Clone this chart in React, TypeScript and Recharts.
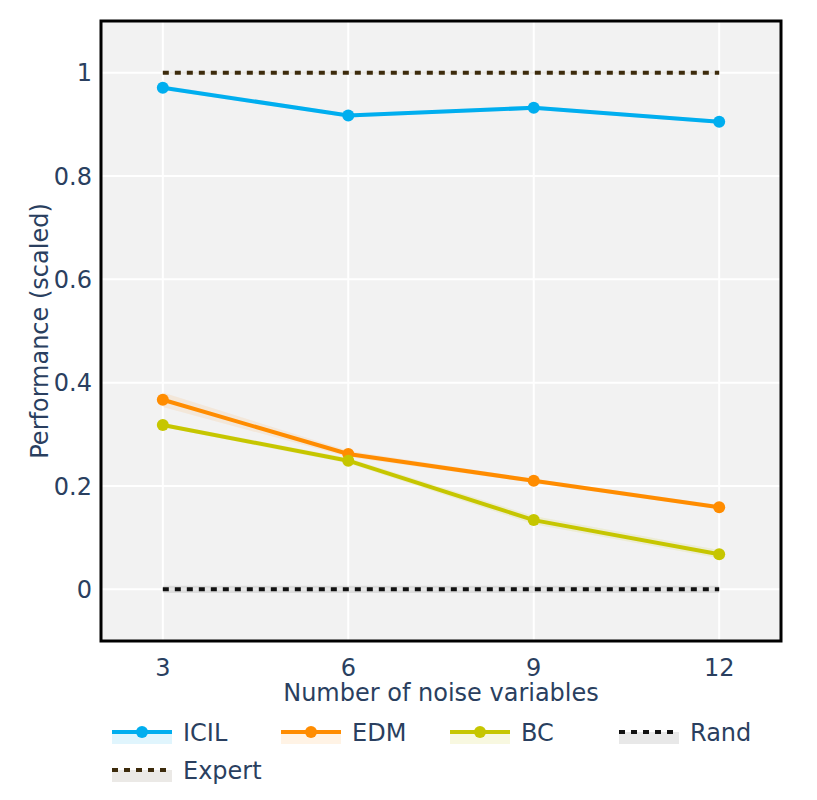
import {
  ComposedChart,
  Line,
  Area,
  XAxis,
  YAxis,
  CartesianGrid,
  ReferenceArea,
} from 'recharts'

// x positions: number of noise variables
const NOISE = [3, 6, 9, 12]

// mean scaled performance per method
const ICIL = [0.971, 0.917, 0.932, 0.905]
const EDM = [0.367, 0.262, 0.21, 0.159]
const BC = [0.318, 0.249, 0.134, 0.068]
const RAND = [0, 0, 0, 0]
const EXPERT = [1, 1, 1, 1]

// half-width of the shaded band around each line
const ICIL_SPREAD = [0.004, 0.004, 0.004, 0.004]
const EDM_SPREAD = [0.014, 0.006, 0.004, 0.004]
const BC_SPREAD = [0.004, 0.005, 0.008, 0.008]
const RAND_SPREAD = [0.007, 0.007, 0.007, 0.007]
const EXPERT_SPREAD = [0.002, 0.002, 0.002, 0.002]

const X_TICKS = [3, 6, 9, 12]
const Y_TICKS = [0, 0.2, 0.4, 0.6, 0.8, 1]

const band = (v: number[], s: number[], i: number) => [v[i] - s[i], v[i] + s[i]]

const DATA = NOISE.map((n, i) => ({
  n,
  icil: ICIL[i],
  edm: EDM[i],
  bc: BC[i],
  rand: RAND[i],
  expert: EXPERT[i],
  icilBand: band(ICIL, ICIL_SPREAD, i),
  edmBand: band(EDM, EDM_SPREAD, i),
  bcBand: band(BC, BC_SPREAD, i),
  randBand: band(RAND, RAND_SPREAD, i),
  expertBand: band(EXPERT, EXPERT_SPREAD, i),
}))

const FONT = "Verdana, 'DejaVu Sans', sans-serif"
const TEXT = '#2a3f5f'
const FS = 24
const TICK = { fill: TEXT, fontSize: FS, fontFamily: FONT }

const SERIES = [
  { key: 'icil', name: 'ICIL', color: '#00aeef', fill: 'rgba(0,174,239,0.12)', dotted: false },
  { key: 'edm', name: 'EDM', color: '#ff8c00', fill: 'rgba(255,140,0,0.1)', dotted: false },
  { key: 'bc', name: 'BC', color: '#c6c600', fill: 'rgba(198,198,0,0.12)', dotted: false },
  { key: 'rand', name: 'Rand', color: '#111111', fill: 'rgba(0,0,0,0.09)', dotted: true },
  { key: 'expert', name: 'Expert', color: '#3d2b0c', fill: 'rgba(61,43,12,0.1)', dotted: true },
]

// legend slots in container coords (page minus 8px body margin)
const LEGEND_POS = [
  { x: 104, y: 724 },
  { x: 273, y: 724 },
  { x: 442, y: 724 },
  { x: 611, y: 724 },
  { x: 104, y: 762 },
]

function Legend() {
  return (
    <svg
      width={801}
      height={784}
      style={{ position: 'absolute', left: 0, top: 0, pointerEvents: 'none' }}
    >
      {SERIES.map((s, i) => {
        const { x, y } = LEGEND_POS[i]
        return (
          <g key={s.key}>
            <rect x={x} y={y} width={60} height={12} fill={s.fill} />
            <line
              x1={x}
              x2={x + 60}
              y1={y}
              y2={y}
              stroke={s.color}
              strokeWidth={4}
              strokeDasharray={s.dotted ? '6 6' : undefined}
            />
            {!s.dotted && <circle cx={x + 30} cy={y} r={6} fill={s.color} />}
            <text x={x + 71} y={y + 9} fill={TEXT} fontSize={FS} fontFamily={FONT}>
              {s.name}
            </text>
          </g>
        )
      })}
    </svg>
  )
}

export default function App() {
  return (
    <div style={{ position: 'relative', width: 801, height: 784 }}>
      <ComposedChart
        width={801}
        height={700}
        data={DATA}
        margin={{ top: 13, right: 28, bottom: 0, left: 0 }}
      >
        <CartesianGrid fill="#f2f2f2" stroke="#ffffff" strokeWidth={2} />
        <XAxis
          dataKey="n"
          type="number"
          domain={[2, 13]}
          ticks={X_TICKS}
          allowDataOverflow
          tick={TICK}
          tickLine={false}
          axisLine={false}
          tickSize={0}
          tickMargin={18}
          height={67}
          label={{
            content: ({ viewBox }: any) => (
              <text
                x={viewBox.x + viewBox.width / 2}
                y={viewBox.y + 52}
                textAnchor="middle"
                dominantBaseline="central"
                fill={TEXT}
                fontSize={FS}
                fontFamily={FONT}
              >
                Number of noise variables
              </text>
            ),
          }}
        />
        <YAxis
          type="number"
          domain={[-0.1, 1.1]}
          ticks={Y_TICKS}
          allowDataOverflow
          width={93}
          tick={TICK}
          tickLine={false}
          axisLine={false}
          tickSize={0}
          tickMargin={9}
          label={{
            content: ({ viewBox }: any) => {
              const cx = viewBox.x + 32
              const cy = viewBox.y + viewBox.height / 2
              return (
                <text
                  x={cx}
                  y={cy}
                  transform={`rotate(-90 ${cx} ${cy})`}
                  textAnchor="middle"
                  dominantBaseline="central"
                  fill={TEXT}
                  fontSize={FS}
                  fontFamily={FONT}
                >
                  Performance (scaled)
                </text>
              )
            },
          }}
        />
        {SERIES.map((s) => (
          <Area
            key={s.key + 'Band'}
            type="linear"
            dataKey={s.key + 'Band'}
            stroke="none"
            fill={s.fill}
            fillOpacity={1}
            isAnimationActive={false}
          />
        ))}
        {SERIES.map((s) => (
          <Line
            key={s.key}
            type="linear"
            dataKey={s.key}
            stroke={s.color}
            strokeWidth={4}
            strokeDasharray={s.dotted ? '6 6' : undefined}
            dot={s.dotted ? false : { r: 6, fill: s.color, stroke: s.color, strokeWidth: 0 }}
            activeDot={false}
            isAnimationActive={false}
          />
        ))}
        <ReferenceArea
          x1={2}
          x2={13}
          y1={-0.1}
          y2={1.1}
          fill="none"
          stroke="#000000"
          strokeWidth={3}
        />
      </ComposedChart>
      <Legend />
    </div>
  )
}
